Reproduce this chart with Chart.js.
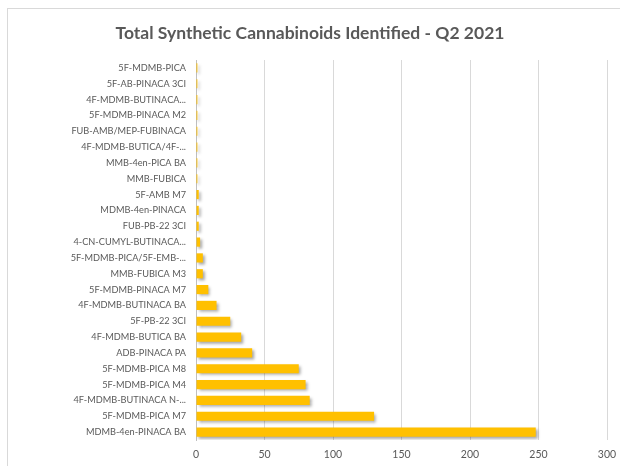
<!DOCTYPE html>
<html>
<head>
<meta charset="utf-8">
<script src="https://cdn.jsdelivr.net/npm/chart.js@4/dist/chart.umd.min.js"></script>
<style>
  html, body { margin: 0; padding: 0; background: #fff; overflow: hidden; }
  #wrap { position: relative; width: 620px; height: 466px; }
  #frame { position: absolute; left: 7px; top: 8px; width: 700px; height: 600px; border: 1px solid #d9d9d9; pointer-events: none; }
</style>
</head>
<body>
<div id="wrap">
  <canvas id="c" width="620" height="466"></canvas>
  <div id="frame"></div>
</div>
<script>
const chartTitle = "Total Synthetic Cannabinoids Identified - Q2 2021";
const categories = [
  "5F-MDMB-PICA",
  "5F-AB-PINACA 3CI",
  "4F-MDMB-BUTINACA...",
  "5F-MDMB-PINACA M2",
  "FUB-AMB/MEP-FUBINACA",
  "4F-MDMB-BUTICA/4F-...",
  "MMB-4en-PICA BA",
  "MMB-FUBICA",
  "5F-AMB M7",
  "MDMB-4en-PINACA",
  "FUB-PB-22 3CI",
  "4-CN-CUMYL-BUTINACA...",
  "5F-MDMB-PICA/5F-EMB-...",
  "MMB-FUBICA M3",
  "5F-MDMB-PINACA M7",
  "4F-MDMB-BUTINACA BA",
  "5F-PB-22 3CI",
  "4F-MDMB-BUTICA BA",
  "ADB-PINACA PA",
  "5F-MDMB-PICA M8",
  "5F-MDMB-PICA M4",
  "4F-MDMB-BUTINACA N-...",
  "5F-MDMB-PICA M7",
  "MDMB-4en-PINACA BA"
];
const counts = [1, 1, 1, 1, 1, 1, 1, 1, 2, 2, 2, 3, 5, 5, 9, 15, 25, 33, 41, 75, 80, 83, 130, 248];
const xTicks = [0, 50, 100, 150, 200, 250, 300];

const shadowPlugin = {
  id: 'barShadow',
  beforeDatasetsDraw(chart) {
    const ctx = chart.ctx;
    ctx.save();
    ctx.shadowColor = 'rgba(0,0,0,0.35)';
    ctx.shadowBlur = 3;
    ctx.shadowOffsetX = 2;
    ctx.shadowOffsetY = 2;
  },
  afterDatasetsDraw(chart) {
    chart.ctx.restore();
  }
};

new Chart(document.getElementById('c'), {
  type: 'bar',
  data: {
    labels: categories,
    datasets: [{
      data: counts,
      backgroundColor: '#FFC000',
      borderWidth: 0,
      categoryPercentage: 1.0,
      barPercentage: 0.58
    }]
  },
  options: {
    indexAxis: 'y',
    responsive: false,
    animation: false,
    layout: { padding: { left: 0, right: 0, top: 23, bottom: 0 } },
    plugins: {
      legend: { display: false },
      tooltip: { enabled: false },
      title: {
        display: true,
        text: chartTitle,
        color: '#595959',
        font: { family: 'Lato', size: 17.5, weight: 'bold' },
        padding: { top: 0, bottom: 16 }
      }
    },
    scales: {
      x: {
        min: xTicks[0],
        max: xTicks[xTicks.length - 1],
        afterBuildTicks(scale) { scale.ticks = xTicks.map(v => ({ value: v })); },
        grid: { color: '#d9d9d9', drawTicks: false },
        border: { display: false },
        ticks: { color: '#595959', font: { family: 'Lato', size: 10.5 }, padding: 8 },
        afterFit(scale) { scale.height = 26; scale.paddingRight = 13; scale.paddingLeft = 0; }
      },
      y: {
        grid: { display: false, drawTicks: false },
        border: { display: true, color: '#bfbfbf' },
        ticks: { color: '#595959', font: { family: 'Lato', size: 9.2 }, padding: 10, autoSkip: false },
        afterFit(scale) { scale.width = 196; }
      }
    }
  },
  plugins: [shadowPlugin]
});
</script>
</body>
</html>
